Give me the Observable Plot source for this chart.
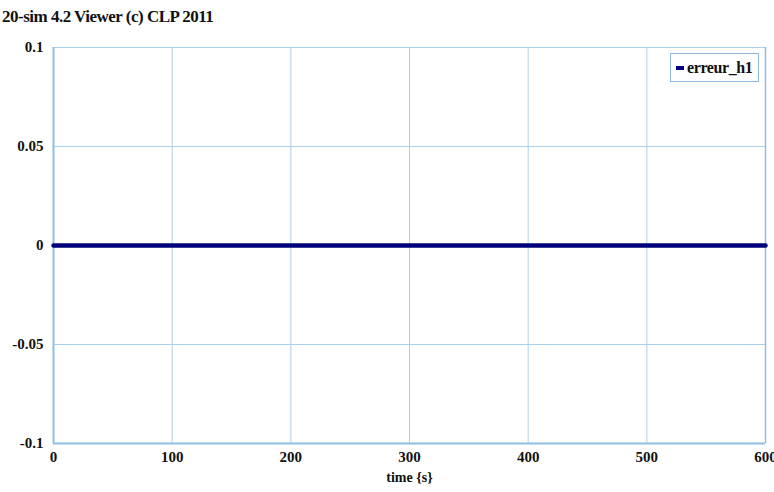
<!DOCTYPE html>
<html><head><meta charset="utf-8">
<script src="https://cdn.jsdelivr.net/npm/d3@7"></script>
<script src="https://cdn.jsdelivr.net/npm/@observablehq/plot@0.6"></script>
<style>
body{margin:0;background:#fff;font-family:"Liberation Serif",serif;}
#wrap{position:relative;width:774px;height:492px;}
#title{position:absolute;left:2px;top:7px;font-weight:bold;font-size:17px;letter-spacing:-0.5px;color:#111;}
#chart{position:absolute;left:0;top:32px;}
#legend{position:absolute;left:670px;top:53px;width:89px;height:29px;border:1px solid #8fb8dd;background:#fff;box-sizing:border-box;font-weight:bold;font-size:16px;letter-spacing:-0.4px;color:#111;display:flex;align-items:center;padding-left:5px;}
#legend span.sw{display:inline-block;width:8px;height:4px;background:#00007a;margin-right:3px;}
</style></head>
<body><div id="wrap"><div id="title">20-sim 4.2 Viewer (c) CLP 2011</div><div id="chart"></div>
<div id="legend"><span class="sw"></span>erreur_h1</div></div>
<script>
const seriesName = "erreur_h1";
const time = [0, 100, 200, 300, 400, 500, 600];
const erreur_h1 = [0, 0, 0, 0, 0, 0, 0];
const xTicks = [0, 100, 200, 300, 400, 500, 600];
const yTicks = [0.1, 0.05, 0, -0.05, -0.1];
const xLabel = "time {s}";
const data = time.map((t, i) => ({t, v: erreur_h1[i]}));
const grid = "#a9d1f2";
const chart = Plot.plot({
  width: 774, height: 460,
  marginLeft: 53, marginRight: 9, marginTop: 15, marginBottom: 49,
  style: {fontFamily: "Liberation Serif", fontWeight: "bold", fontSize: "15px", color: "#111", background: "#fff"},
  x: {domain: [0, 600], ticks: xTicks, tickSize: 0, tickPadding: 8, label: null},
  y: {domain: [-0.1, 0.1], ticks: yTicks, tickSize: 0, tickPadding: 10, label: null, tickFormat: d => String(d)},
  marks: [
    Plot.gridX(xTicks, {stroke: grid, strokeOpacity: 1, strokeWidth: 1}),
    Plot.gridY(yTicks, {stroke: grid, strokeOpacity: 1, strokeWidth: 1}),
    Plot.ruleX([0], {stroke: "#8fbde3", strokeWidth: 2}),
    Plot.ruleY([-0.1], {stroke: "#8fbde3", strokeWidth: 2}),
    Plot.ruleX([600], {stroke: "#8fbde3", strokeWidth: 1.5}),
    Plot.line(data, {x: "t", y: "v", stroke: "#00007a", strokeWidth: 4.5}),
    Plot.axisX({ticks: xTicks, tickSize: 0, tickPadding: 8, label: null}),
    Plot.axisY({ticks: yTicks, tickSize: 0, tickPadding: 10, label: null, tickFormat: d => String(d)}),
    Plot.text([xLabel], {frameAnchor: "bottom", dy: 38, fontSize: 14, fontWeight: "bold"})
  ]
});
document.getElementById("chart").appendChild(chart);
</script></body></html>
